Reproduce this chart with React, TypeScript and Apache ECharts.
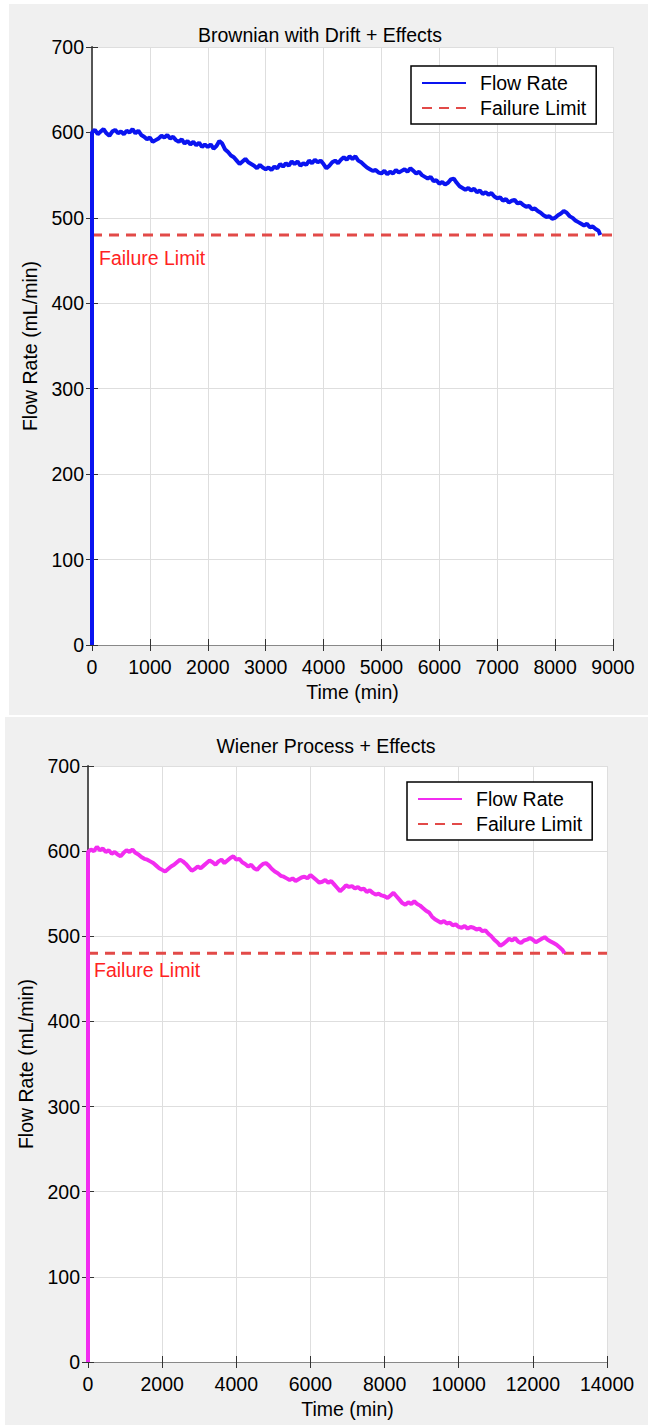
import React, { useEffect, useRef } from "react";
import * as echarts from "echarts";

// ---------- data ----------
const FAILURE_LIMIT = 480;

// Top panel: Brownian with Drift + Effects (sampled every 50 min)
const TOP_STEP_MIN = 50;
const TOP_FLOW = [
  600, 603, 598, 601, 604, 599, 596, 601, 603, 599,
  601, 598, 602, 600, 604, 599, 602, 597, 595, 592,
  594, 589, 591, 593, 596, 594, 597, 593, 595, 591,
  589, 592, 587, 590, 586, 589, 585, 588, 583, 586,
  583, 586, 581, 584, 590, 587, 580, 577, 573, 571,
  567, 563, 566, 569, 565, 563, 561, 558, 562, 559,
  557, 559, 556, 560, 558, 563, 560, 564, 561, 566,
  563, 566, 561, 564, 562, 567, 564, 568, 565, 567,
  563, 558, 561, 565, 567, 564, 568, 571, 568, 572,
  569, 572, 567, 565, 562, 559, 557, 555, 556, 553,
  552, 555, 551, 554, 552, 556, 553, 555, 557, 554,
  558, 555, 552, 554, 550, 548, 546, 548, 543, 544,
  540, 542, 539, 541, 545, 546, 541, 537, 535, 533,
  535, 532, 534, 530, 532, 528, 530, 527, 529, 525,
  523, 524, 520, 522, 518, 520, 521, 517, 518, 515,
  513, 514, 510, 511, 508, 506, 503, 501, 502, 499,
  500, 503, 505, 508, 506, 502, 500, 497, 495, 493,
  491, 493, 489, 490, 487, 485,
];
const TOP_END_TIME = 8780;
const TOP_X_MAX = 9000;
const TOP_X_INTERVAL = 1000;

// Bottom panel: Wiener Process + Effects (sampled every 80 min)
const BOTTOM_STEP_MIN = 80;
const BOTTOM_FLOW = [
  599, 602, 600, 605, 601, 603, 599, 601, 597, 599,
  596, 594, 598, 601, 599, 602, 598, 596, 593, 591,
  590, 588, 586, 583, 580, 578, 576, 579, 582, 584,
  587, 590, 588, 585, 581, 577, 579, 582, 580, 583,
  586, 589, 587, 584, 588, 590, 586, 589, 592, 594,
  590, 591, 587, 585, 582, 584, 580, 578, 582, 585,
  586, 583, 579, 576, 574, 571, 570, 568, 566, 568,
  565, 567, 569, 570, 568, 572, 569, 566, 563, 564,
  566, 563, 565, 561, 557, 553, 556, 560, 558, 559,
  556, 558, 555, 556, 552, 554, 551, 549, 550, 548,
  547, 545, 548, 551, 547, 543, 539, 537, 540, 538,
  541, 538, 536, 533, 530, 528, 523, 520, 518, 516,
  518, 515, 516, 513, 514, 511, 510, 512, 509, 511,
  510, 508, 509, 506, 507, 503, 500, 496, 493, 489,
  491, 494, 497, 495, 498, 494, 492, 495, 496, 498,
  496, 493, 495, 497, 499, 496, 494, 492, 490, 487,
  484,
];
const BOTTOM_END_TIME = 12853;
const BOTTOM_X_MAX = 14000;
const BOTTOM_X_INTERVAL = 2000;

const Y_MAX = 700;
const Y_INTERVAL = 100;

const FONT = "'Liberation Sans', Arial, sans-serif";
const FS = 19.5;

type PanelCfg = {
  title: string;
  titleX: number;
  titleY: number;
  color: string;
  flow: number[];
  step: number;
  endTime: number;
  xMax: number;
  xInterval: number;
  grid: { left: number; top: number; width: number; height: number };
  legend: { left: number; top: number };
  failText: { x: number; y: number };
};

function buildOption(c: PanelCfg) {
  const flowData: number[][] = [[0, 0]];
  c.flow.forEach((v, i) => flowData.push([i * c.step, v]));
  flowData.push([c.endTime, FAILURE_LIMIT]);
  const limitData = [
    [0, FAILURE_LIMIT],
    [c.xMax, FAILURE_LIMIT],
  ];
  const axisLine = { show: true, lineStyle: { color: "#555", width: 1 } };
  const tick = { show: true, inside: true, length: 6, lineStyle: { color: "#333" } };
  const label = {
    fontFamily: FONT,
    fontSize: FS,
    color: "#000",
    formatter: (v: number) => String(v),
  };
  const split = { show: true, lineStyle: { color: "#dedede", width: 1 } };
  return {
    animation: false,
    backgroundColor: "#f0f0f0",
    textStyle: { fontFamily: FONT },
    title: {
      text: c.title,
      left: c.titleX,
      top: c.titleY,
      textAlign: "center",
      textStyle: { fontFamily: FONT, fontSize: FS, fontWeight: "normal", color: "#000" },
    },
    grid: {
      ...c.grid,
      show: true,
      backgroundColor: "#ffffff",
      borderWidth: 0,
      containLabel: false,
    },
    legend: {
      orient: "vertical",
      left: c.legend.left,
      top: c.legend.top,
      backgroundColor: "#ffffff",
      borderColor: "#000",
      borderWidth: 1.5,
      borderRadius: 0,
      padding: [6, 10, 5, 10],
      itemWidth: 44,
      itemHeight: 14,
      itemGap: 3,
      itemStyle: { opacity: 0 },
      textStyle: { fontFamily: FONT, fontSize: FS, color: "#000", lineHeight: 22, padding: [0, 0, 0, 9] },
      data: ["Flow Rate", "Failure Limit"],
    },
    xAxis: [
      {
        type: "value",
        min: 0,
        max: c.xMax,
        interval: c.xInterval,
        position: "bottom",
        name: "Time (min)",
        nameLocation: "middle",
        nameGap: 36,
        nameTextStyle: { fontFamily: FONT, fontSize: FS, color: "#000" },
        axisLine,
        axisTick: tick,
        axisLabel: { ...label, margin: 12 },
        splitLine: split,
      },
      {
        type: "value",
        min: 0,
        max: c.xMax,
        interval: c.xInterval,
        position: "top",
        axisLine: { show: true, lineStyle: { color: "#888", width: 1 } },
        axisTick: tick,
        axisLabel: { show: false },
        splitLine: { show: false },
      },
    ],
    yAxis: [
      {
        type: "value",
        min: 0,
        max: Y_MAX,
        interval: Y_INTERVAL,
        position: "left",
        name: "Flow Rate (mL/min)",
        nameLocation: "middle",
        nameRotate: 90,
        nameGap: 52,
        nameTextStyle: { fontFamily: FONT, fontSize: FS, color: "#000" },
        axisLine,
        axisTick: tick,
        axisLabel: { ...label, margin: 8 },
        splitLine: split,
      },
      {
        type: "value",
        min: 0,
        max: Y_MAX,
        interval: Y_INTERVAL,
        position: "right",
        axisLine: { show: true, lineStyle: { color: "#555", width: 2 } },
        axisTick: tick,
        axisLabel: { show: false },
        splitLine: { show: false },
      },
    ],
    series: [
      {
        name: "Flow Rate",
        type: "line",
        xAxisIndex: 0,
        yAxisIndex: 0,
        data: flowData,
        symbol: "none",
        color: c.color,
        lineStyle: { color: c.color, width: 4 },
        z: 3,
      },
      {
        name: "Failure Limit",
        type: "line",
        xAxisIndex: 0,
        yAxisIndex: 0,
        data: limitData,
        symbol: "none",
        color: "#e8413f",
        lineStyle: { color: "#e24a48", width: 3, type: [10, 7] },
        z: 2,
      },
    ],
    graphic: [
      {
        type: "text",
        left: c.failText.x,
        top: c.failText.y,
        style: { text: "Failure Limit", fill: "#ff2222", font: `${FS}px ${FONT}` },
        z: 10,
      },
    ],
  };
}

const TOP_CFG: PanelCfg = {
  title: "Brownian with Drift + Effects",
  titleX: 306,
  titleY: 16,
  color: "#0a14f0",
  flow: TOP_FLOW,
  step: TOP_STEP_MIN,
  endTime: TOP_END_TIME,
  xMax: TOP_X_MAX,
  xInterval: TOP_X_INTERVAL,
  grid: { left: 83, top: 43, width: 521, height: 598 },
  legend: { left: 402, top: 62 },
  failText: { x: 90, y: 244 },
};

const BOTTOM_CFG: PanelCfg = {
  title: "Wiener Process + Effects",
  titleX: 316,
  titleY: 14,
  color: "#f22cf0",
  flow: BOTTOM_FLOW,
  step: BOTTOM_STEP_MIN,
  endTime: BOTTOM_END_TIME,
  xMax: BOTTOM_X_MAX,
  xInterval: BOTTOM_X_INTERVAL,
  grid: { left: 83, top: 49, width: 519, height: 596 },
  legend: { left: 402, top: 65 },
  failText: { x: 89, y: 243 },
};

function Panel({ cfg, style }: { cfg: PanelCfg; style: React.CSSProperties }) {
  const ref = useRef<HTMLDivElement>(null);
  useEffect(() => {
    if (!ref.current) return;
    const chart = echarts.init(ref.current, undefined, { renderer: "svg" });
    chart.setOption(buildOption(cfg) as any);
    return () => chart.dispose();
  }, [cfg]);
  return <div ref={ref} style={{ position: "absolute", ...style }} />;
}

export default function App() {
  return (
    <div
      style={{
        position: "absolute",
        left: 0,
        top: 0,
        width: 648,
        height: 1425,
        background: "#ffffff",
        overflow: "hidden",
      }}
    >
      <Panel cfg={TOP_CFG} style={{ left: 9, top: 4, width: 639, height: 711 }} />
      <Panel cfg={BOTTOM_CFG} style={{ left: 5, top: 717, width: 643, height: 708 }} />
    </div>
  );
}
